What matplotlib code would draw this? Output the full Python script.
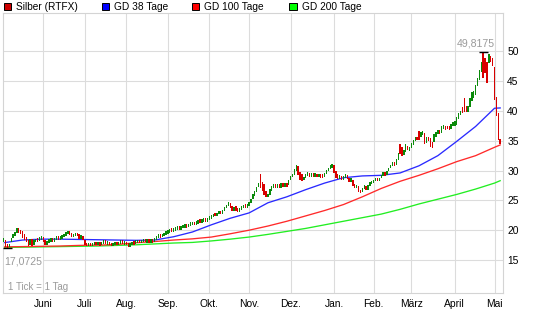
import matplotlib
matplotlib.use('Agg')
import matplotlib.pyplot as plt
from matplotlib.patches import Rectangle
import numpy as np
import pandas as pd

plt.rcParams['font.family'] = ['Liberation Sans', 'DejaVu Sans']

# ---------------- data ----------------
start_date = '2010-05-03'

opens = [
    # May 2010
    18.0, 18.35, 17.3, 17.1, 18.0, 18.7, 19.0, 19.5, 20.3, 20.1, 19.8, 19.4, 18.8, 18.4, 17.6, 18.6, 17.6, 18.0, 18.7, 18.2, 18.4,
    # June
    18.8, 18.4, 17.6, 17.9, 18.1, 18.6, 18.1, 18.4, 18.9, 18.4, 18.6, 18.8, 19.1, 19.3, 19.8, 19.5, 18.8, 19.0, 19.6, 19.3, 18.6, 19.0,
    # July
    18.4, 17.9, 17.3, 17.8, 17.3, 17.5, 18.0, 17.5, 18.0, 17.5, 17.7, 18.2, 17.6, 18.1, 17.8, 17.3, 17.5, 18.0, 17.5, 17.7, 18.2, 17.6,
    # August
    18.1, 17.7, 17.2, 17.5, 18.1, 17.7, 17.8, 18.3, 17.8, 18.0, 18.5, 17.9, 18.4, 17.9, 18.4, 18.0, 18.4, 18.7, 19.2, 18.8, 19.0, 19.2,
    # September
    19.4, 19.6, 20.2, 19.7, 19.9, 20.1, 20.6, 20.1, 20.3, 20.4, 20.9, 20.5, 20.7, 20.8, 21.3, 20.9, 21.1, 21.7, 21.2, 21.4, 21.9, 21.4,
    # October
    21.7, 21.9, 22.2, 22.6, 22.3, 22.7, 23.1, 22.8, 23.3, 23.7, 24.1, 24.5, 24.0, 23.3, 24.0, 23.7, 23.1, 23.4, 23.7, 24.2, 23.8,
    # November
    24.1, 24.6, 25.2, 25.8, 26.4, 27.2, 29.5, 28.0, 27.7, 26.5, 25.5, 25.9, 26.6, 27.1, 27.8, 27.1, 27.7, 27.1, 27.9, 27.3, 27.9, 27.6,
    # December
    28.4, 28.9, 29.3, 29.9, 30.7, 29.7, 29.4, 28.4, 28.8, 29.1, 29.6, 29.0, 29.4, 29.0, 29.4, 28.9, 29.5, 29.4, 28.9, 29.4, 29.9, 30.3, 30.4,
    # January 2011
    30.9, 30.0, 29.4, 28.6, 29.1, 28.5, 28.8, 29.3, 28.8, 28.1, 28.4, 27.7, 27.0, 27.4, 26.8, 26.4, 26.9, 27.4, 26.8, 27.4, 27.7,
    # February
    27.9, 28.2, 28.7, 28.2, 28.7, 29.1, 29.6, 29.2, 29.9, 30.4, 30.8, 31.4, 31.0, 31.8, 34.4, 34.0, 32.6, 33.1, 34.2, 33.3,
    # March
    33.8, 34.3, 35.0, 35.7, 36.7, 35.6, 36.0, 36.3, 34.7, 35.6, 35.5, 34.8, 34.8, 35.7, 36.1, 36.8, 36.3, 37.0, 37.5, 37.5, 37.4, 37.0, 37.4,
    # April
    37.5, 37.7, 38.6, 39.4, 40.6, 42.2, 40.9, 39.9, 40.6, 41.6, 42.2, 42.7, 44.1, 45.2, 46.6, 49.8175, 48.9, 48.2, 48.1, 49.2, 48.8,
    # May 2011
    47.4, 42.4, 39.7, 35.3,
]

closes = [
    # May 2010
    18.7, 17.1, 17.0725, 17.35, 18.7, 19.4, 19.7, 20.4, 19.6, 19.3, 18.7, 18.3, 18.1, 17.3, 18.5, 17.4, 18.3, 18.6, 18.1, 18.8, 18.9,
    # June
    18.0, 17.6, 18.2, 18.4, 18.6, 18.1, 18.7, 18.9, 18.4, 18.9, 19.1, 19.4, 19.7, 19.8, 19.2, 18.8, 19.3, 19.6, 19.0, 18.6, 19.1, 18.3,
    # July
    17.6, 17.3, 17.8, 17.3, 17.8, 18.0, 17.5, 18.0, 17.4, 18.0, 18.2, 17.7, 18.1, 17.5, 17.3, 17.8, 18.0, 17.5, 18.0, 18.2, 17.7, 18.1,
    # August
    17.5, 17.2, 17.8, 18.1, 17.6, 18.2, 18.3, 17.8, 18.3, 18.5, 18.0, 18.4, 17.9, 18.4, 17.9, 18.7, 19.0, 19.2, 18.7, 19.3, 19.5, 19.7,
    # September
    20.0, 20.2, 19.7, 20.3, 20.5, 20.7, 20.1, 20.7, 20.9, 21.0, 20.4, 21.1, 21.3, 21.4, 20.8, 21.5, 21.7, 21.2, 21.8, 22.0, 21.4, 22.0,
    # October
    22.0, 22.3, 22.6, 22.3, 22.8, 23.1, 22.7, 23.4, 23.9, 24.3, 24.7, 23.7, 23.3, 23.9, 23.2, 23.0, 23.5, 23.9, 24.2, 23.8, 24.3,
    # November
    24.7, 25.3, 26.0, 26.5, 27.3, 27.9, 27.1, 26.5, 25.9, 25.5, 26.1, 26.9, 27.4, 27.7, 27.1, 27.7, 27.0, 27.9, 27.2, 27.9, 27.3, 28.5,
    # December
    29.1, 29.5, 30.2, 30.9, 29.3, 28.4, 28.2, 29.0, 29.4, 29.7, 29.0, 29.5, 29.0, 29.4, 28.9, 29.4, 28.8, 28.8, 29.6, 30.1, 30.5, 30.8, 31.1,
    # January 2011
    29.6, 28.8, 28.6, 29.1, 28.4, 29.0, 29.3, 28.6, 28.0, 28.6, 27.4, 27.0, 27.5, 26.4, 26.2, 27.0, 27.4, 26.8, 27.6, 27.9, 28.1,
    # February
    28.4, 28.7, 28.2, 28.8, 29.2, 29.7, 29.1, 30.0, 30.5, 31.0, 31.5, 30.8, 32.0, 32.9, 32.7, 32.4, 33.4, 34.4, 33.4, 34.0,
    # March
    34.7, 35.2, 35.6, 35.1, 35.2, 36.4, 36.7, 34.4, 35.7, 34.9, 33.9, 33.7, 36.1, 36.4, 36.8, 36.2, 37.4, 37.6, 36.8, 36.9, 36.8, 37.8, 38.1,
    # April
    38.3, 38.9, 39.7, 39.9, 39.7, 39.9, 39.9, 40.9, 42.2, 43.2, 43.4, 44.4, 45.6, 46.9, 48.2, 45.6, 46.4, 44.7, 49.6, 48.2, 47.5,
    # May 2011
    41.9, 39.1, 35.2, 34.4,
]

# moving averages read at every 10th trading day
ma_idx = [0, 10, 20, 30, 40, 50, 60, 70, 80, 90, 100, 110, 120, 130,
          140, 150, 160, 170, 180, 190, 200, 210, 220, 230, 240, 250, 260, 263]
gd38 = [17.9, 18.35, 18.5, 18.5, 18.45, 18.4, 18.35, 18.3, 18.35, 18.9, 19.7, 20.9, 22.0, 22.9,
        24.6, 25.6, 26.8, 27.9, 28.8, 29.1, 29.2, 29.6, 30.8, 32.5, 34.9, 37.4, 40.45, 40.5]
gd100 = [17.2, 17.25, 17.3, 17.35, 17.45, 17.5, 17.6, 17.9, 18.1, 18.35, 18.55, 18.85, 19.4, 20.0,
         20.7, 21.5, 22.4, 23.3, 24.3, 25.6, 27.0, 28.2, 29.2, 30.3, 31.5, 32.5, 33.9, 34.3]
gd200 = [17.1, 17.15, 17.2, 17.25, 17.3, 17.35, 17.45, 17.55, 17.7, 17.85, 17.95, 18.2, 18.5, 18.85,
         19.3, 19.8, 20.3, 20.9, 21.5, 22.1, 22.7, 23.5, 24.4, 25.2, 26.0, 26.9, 27.9, 28.3]

month_names = {1: 'Jan.', 2: 'Feb.', 3: 'März', 4: 'April', 5: 'Mai', 6: 'Juni',
               7: 'Juli', 8: 'Aug.', 9: 'Sep.', 10: 'Okt.', 11: 'Nov.', 12: 'Dez.'}
y_ticks = [15, 20, 25, 30, 35, 40, 45, 50]
legend_labels = ['Silber (RTFX)', 'GD 38 Tage', 'GD 100 Tage', 'GD 200 Tage']
high_label = '49,8175'
low_label = '17,0725'
tick_note = '1 Tick = 1 Tag'

# ---------------- figure ----------------
W, H = 545, 327
fig = plt.figure(figsize=(W / 100, H / 100), dpi=100)
fig.patch.set_facecolor('white')

def fx(x):
    return x / W

def fy(y):
    return 1 - y / H

ax = fig.add_axes([fx(2.7), fy(293), (503 - 2.7) / W, (293 - 13) / H])

n = len(opens)
idx = np.arange(n)
dates = pd.bdate_range(start_date, periods=n)
o = np.array(opens)
c = np.array(closes)
up = c >= o
cols = np.where(up, '#0a8a0a', '#d80000')

ax.set_xlim(-0.5, n + 0.5)
ax.set_ylim(9.47, 56.42)

# month gridlines / labels
months = dates.month
month_pos = [i for i in range(1, n) if months[i] != months[i - 1]]
month_lbl = [month_names[dates[i].month] for i in month_pos]
ax.set_xticks(month_pos)
ax.set_xticklabels(month_lbl)
ax.set_yticks(y_ticks)
ax.set_yticklabels([str(v) for v in y_ticks])
ax.yaxis.tick_right()
ax.tick_params(axis='both', length=0, labelsize=7.4, colors='black')
ax.tick_params(axis='x', pad=4.6)
ax.tick_params(axis='y', pad=3.0)
ax.grid(True, color='#dcdcdc', linewidth=0.8)
ax.set_axisbelow(True)
for s in ax.spines.values():
    s.set_color('#d4d4d4')
    s.set_linewidth(0.8)

# moving averages
ax.plot(ma_idx, gd200, color='#22ee22', lw=0.95, zorder=2)
ax.plot(ma_idx, gd100, color='#ff2a2a', lw=0.95, zorder=2)
ax.plot(ma_idx, gd38, color='#2a2aff', lw=0.95, zorder=2)

# price bars
ax.bar(idx, np.maximum(np.abs(c - o), 0.6), bottom=np.minimum(o, c), width=0.72,
       color=cols, linewidth=0, antialiased=False, zorder=3)

# high / low markers
hi_i = int(np.argmax(np.maximum(o, c)))
lo_i = int(np.argmin(np.minimum(o, c)))
ax.hlines(max(opens + closes), hi_i - 2.0, hi_i + 2.4, color='black', lw=1.0, zorder=4)
ax.hlines(min(opens + closes), lo_i - 2.4, lo_i + 2.4, color='black', lw=1.0, zorder=4)

gray = '#9a9a9a'
fig.text(fx(476), fy(44), high_label, color=gray, fontsize=7.6, ha='center', va='center')
fig.text(fx(4.5), fy(261), low_label, color=gray, fontsize=7.6, ha='left', va='center',
         bbox=dict(facecolor='white', edgecolor='none', pad=0.3))
fig.text(fx(8), fy(286.5), tick_note, color=gray, fontsize=7.0, ha='left', va='center')

# legend
leg_colors = ['#cc0000', '#0000ff', '#ff0000', '#00ff00']
sq_x = [3.5, 101.5, 192, 289.5]
tx_x = [15.6, 113.7, 204, 301.7]
for col, sx, tx, lab in zip(leg_colors, sq_x, tx_x, legend_labels):
    fig.add_artist(Rectangle((fx(sx), fy(10)), 7 / W, 7 / H, transform=fig.transFigure,
                             facecolor=col, edgecolor='black', linewidth=0.7))
    fig.text(fx(tx), fy(6.8), lab, fontsize=7.3, ha='left', va='center', color='black')

fig.savefig('out.png', dpi=100)
